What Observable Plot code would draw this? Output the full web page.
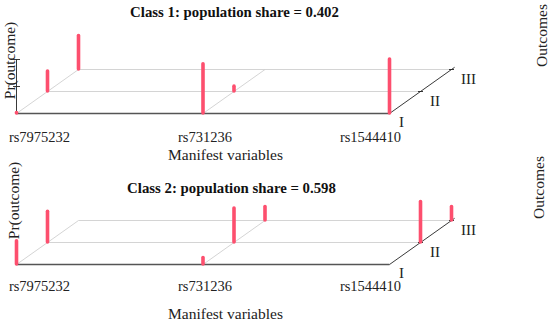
<!DOCTYPE html>
<html>
<head>
<meta charset="utf-8">
<script src="https://cdn.jsdelivr.net/npm/d3@7"></script>
<script src="https://cdn.jsdelivr.net/npm/@observablehq/plot@0.6"></script>
<style>
  html, body { margin: 0; padding: 0; background: #fff; }
  #chart svg { display: block; }
</style>
</head>
<body>
<div id="chart"></div>
<script>
// ---- data ----
const variables = ["rs7975232", "rs731236", "rs1544410"];
const outcomes = ["I", "II", "III"];
const classTitles = ["Class 1: population share = 0.402", "Class 2: population share = 0.598"];
// Pr(outcome) per manifest variable, outcomes I, II, III
const class1Probs = [
  [0.01, 0.37, 0.62],
  [0.91, 0.09, 0.00],
  [1.00, 0.00, 0.00]
];
const class2Probs = [
  [0.43, 0.57, 0.00],
  [0.12, 0.63, 0.25],
  [0.00, 0.75, 0.25]
];
const axisLabelY = "Pr(outcome)";
const axisLabelX = "Manifest variables";
const axisLabelZ = "Outcomes";
const probTicks = [0.5, 1];

// ---- layout (pseudo-3D projection) ----
const W = 550, H = 323;
const PX_VAR = 186.5;     // px between manifest variables
const PX_PROB = 54;       // px for probability 1
const DEPTH_X = 31, DEPTH_Y = 22;  // px shift per outcome step
const ORIGIN_X = 16;      // px of front-left corner
const BASE2 = 264;        // px baseline of lower panel
const du = DEPTH_X / PX_VAR, dv = DEPTH_Y / PX_PROB;
const pxU = px => px / PX_VAR;      // px distance -> x units
const pxV = px => px / PX_PROB;     // px distance -> y units

const panels = [
  {probs: class1Probs, title: classTitles[0], level: pxV(BASE2 - 113), axis: true,
   titleDy: -101, titleX: 234, varDy: 24, manDy: 42, prX: 10, prDy: -53, outX: 542, outDy: -78},
  {probs: class2Probs, title: classTitles[1], level: 0, axis: false,
   titleDy: -76, titleX: 231, varDy: 22, manDy: 50, prX: 14, prDy: -64, outX: 539, outDy: -77}
];

const bars = [], grid = [], front = [], dark = [], ticks = [], texts = [], rotTexts = [], varLabels = [], outLabels = [];
const ux = px => (px - ORIGIN_X) / PX_VAR;
for (const P of panels) {
  const L = P.level;
  P.probs.forEach((row, i) => row.forEach((p, j) => {
    if (p > 0.004) bars.push({u: i + j * du, v0: L + j * dv, v1: L + j * dv + p});
  }));
  for (const j of [1, 2]) grid.push({x1: j * du, y1: L + j * dv, x2: 2 + j * du, y2: L + j * dv});
  for (const i of [0, 1]) grid.push({x1: i, y1: L, x2: i + 2 * du, y2: L + 2 * dv});
  front.push({x1: 0, y1: L, x2: 2, y2: L});
  dark.push({x1: 2, y1: L, x2: 2 + 2.1 * du, y2: L + 2.1 * dv});
  for (const j of [1, 2]) ticks.push({x1: 2 + j * du - pxU(2.5), y1: L + j * dv, x2: 2 + j * du + pxU(2.5), y2: L + j * dv});
  if (P.axis) {
    dark.push({x1: 0, y1: L, x2: 0, y2: L + 1});
    for (const t of probTicks) ticks.push({x1: -pxU(3.5), y1: L + t, x2: pxU(3.5), y2: L + t});
  }
  texts.push({u: ux(P.titleX), v: L - pxV(P.titleDy), text: P.title, bold: true});
  texts.push({u: ux(225), v: L - pxV(P.manDy), text: axisLabelX, bold: false});
  variables.forEach((name, i) => varLabels.push({u: ux(39 + i * 165.5), v: L - pxV(P.varDy), text: name}));
  outcomes.forEach((name, j) => outLabels.push({u: 2 + j * du + pxU(12 + 2.5 * j), v: L + j * dv - pxV(9 + 0.5 * j), text: name}));
  rotTexts.push({u: ux(P.prX), v: L - pxV(P.prDy), text: axisLabelY});
  rotTexts.push({u: ux(P.outX), v: L - pxV(P.outDy), text: axisLabelZ});
}

const font = "'Liberation Serif', 'Times New Roman', serif";
const chart = Plot.plot({
  width: W, height: H,
  margin: 0, marginLeft: 0, marginRight: 0, marginTop: 0, marginBottom: 0,
  x: {domain: [ux(0), ux(W)], axis: null},
  y: {domain: [pxV(BASE2 - H), pxV(BASE2)], axis: null},
  style: {fontFamily: font, background: "#fff", color: "#111"},
  marks: [
    Plot.link(grid, {x1: "x1", y1: "y1", x2: "x2", y2: "y2", stroke: "#cfcfcf", strokeWidth: 0.9}),
    Plot.link(front, {x1: "x1", y1: "y1", x2: "x2", y2: "y2", stroke: "#555", strokeWidth: 1.6}),
    Plot.link(dark, {x1: "x1", y1: "y1", x2: "x2", y2: "y2", stroke: "#222", strokeWidth: 0.9}),
    Plot.link(ticks, {x1: "x1", y1: "y1", x2: "x2", y2: "y2", stroke: "#222", strokeWidth: 0.9}),
    Plot.ruleX(bars, {x: "u", y1: "v0", y2: "v1", stroke: "#fd4f6e", strokeWidth: 3.6, strokeLinecap: "round"}),
    Plot.text(texts.filter(d => d.bold), {x: "u", y: "v", text: "text", fontSize: 14.8, fontWeight: "bold", fill: "#111", lineAnchor: "middle"}),
    Plot.text(texts.filter(d => !d.bold), {x: "u", y: "v", text: "text", fontSize: 15.5, fill: "#222", lineAnchor: "middle"}),
    Plot.text(varLabels, {x: "u", y: "v", text: "text", fontSize: 14.5, fill: "#222", lineAnchor: "middle"}),
    Plot.text(outLabels, {x: "u", y: "v", text: "text", fontSize: 15, fill: "#222", lineAnchor: "middle"}),
    Plot.text(rotTexts, {x: "u", y: "v", text: "text", fontSize: 15.5, fill: "#222", rotate: -90, lineAnchor: "middle"})
  ]
});
document.getElementById("chart").appendChild(chart);
</script>
</body>
</html>
